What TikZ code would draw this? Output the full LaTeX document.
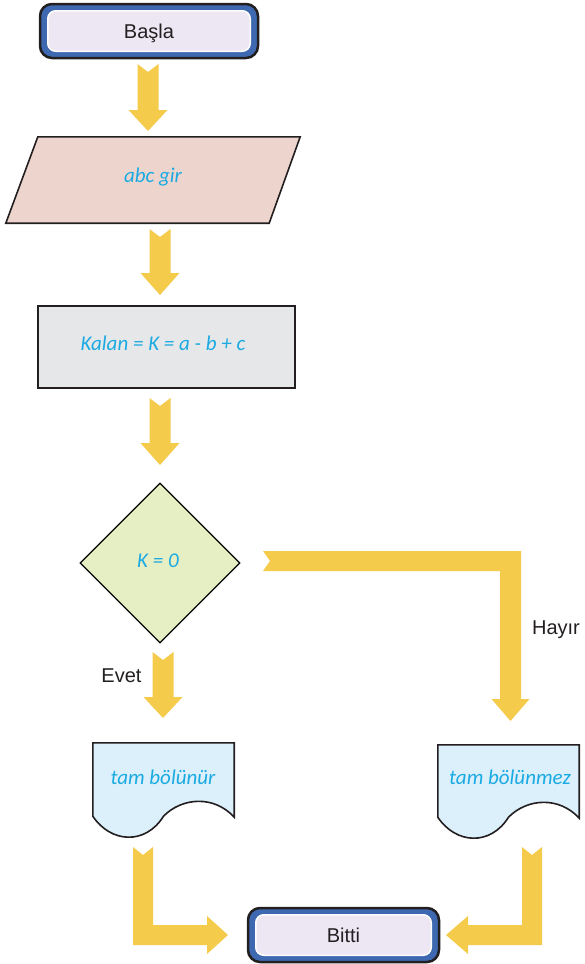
\documentclass[tikz,border=0pt]{standalone}
\usepackage{fontspec}
\setmainfont{Liberation Sans}
\newfontfamily\calfont{Carlito}
\usetikzlibrary{shapes.geometric,calc}
\definecolor{arrowyellow}{RGB}{244,203,75}
\definecolor{termblue}{RGB}{62,105,176}
\definecolor{termfill}{RGB}{236,231,242}
\definecolor{inpink}{RGB}{237,213,206}
\definecolor{procgray}{RGB}{230,231,232}
\definecolor{decgreen}{RGB}{230,239,196}
\definecolor{docblue}{RGB}{219,240,250}
\definecolor{cyantext}{RGB}{27,170,226}
\definecolor{darktext}{RGB}{35,31,32}
\tikzset{
  terminal/.style={rounded corners=12pt, fill=termblue, draw=darktext, line width=2.5pt, inner sep=0pt,
    text=darktext, font=\fontsize{20}{24}\selectfont},
  cyanlabel/.style={text=cyantext, font=\calfont\itshape\fontsize{21}{25}\selectfont, inner sep=0pt},
  darklabel/.style={text=darktext, font=\fontsize{20}{24}\selectfont, inner sep=0pt},
  blockarrow/.style={fill=arrowyellow, draw=none},
  shapeline/.style={draw=darktext, line width=1.6pt},
}
% down block arrow: #1 centre x, #2 top, #3 head start, #4 tip
\newcommand\blockdown[4]{%
  \fill[blockarrow] (#1-10.5,#2) -- (#1,#2+8) -- (#1+10.5,#2) -- (#1+10.5,#3) -- (#1+19.5,#3)
    -- (#1,#4) -- (#1-19.5,#3) -- (#1-10.5,#3) -- cycle;}
\begin{document}
\begin{tikzpicture}[x=1pt,y=-1pt]
\useasboundingbox (0,0) rectangle (584,964);

% Start terminal
\node[terminal, minimum width=218pt, minimum height=54pt] (start) at (149,31) {};
\fill[termfill, draw=white, line width=1.5pt, rounded corners=8pt]
  ($(start.north west)+(9,8)$) rectangle ($(start.south east)+(-9,-8)$);
\node[darklabel] (startlbl) at ($(start.center)+(0,2.5)$) {Başla};

% Input parallelogram
\node[minimum width=294pt, minimum height=86pt, inner sep=0pt] (input) at (153,180) {};
\filldraw[fill=inpink, shapeline, line join=miter]
  ($(input.north west)+(32,0)$) -- (input.north east) -- ($(input.south east)+(-31,0)$) -- (input.south west) -- cycle;
\node[cyanlabel] (inputlbl) at (153,177) {abc gir};

% Process
\node[fill=procgray, draw=darktext, line width=2pt, minimum width=257pt, minimum height=82pt, inner sep=0pt] (proc) at (166.5,347) {};
\node[cyanlabel] (proclbl) at (163,343) {Kalan = K = a - b + c};

% Decision
\node[diamond, aspect=1, fill=decgreen, draw=black, line width=1.2pt, minimum width=160pt, minimum height=160pt, inner sep=0pt] (dec) at (160,563) {};
\node[cyanlabel] (declbl) at (158,561) {K = 0};

% Documents
\node[minimum width=141pt, minimum height=73pt, inner sep=0pt] (doc1) at (163.5,779.5) {};
\filldraw[fill=docblue, shapeline]
  (doc1.south west) -- (doc1.north west) -- (doc1.north east) -- ($(doc1.south east)+(0,1)$)
  .. controls ($(doc1.south east)+(-20,-21)$) and ($(doc1.south east)+(-52,-19)$) .. ($(doc1.south)+(0,0)$)
  .. controls ($(doc1.south)+(-18,29)$) and ($(doc1.south west)+(18,27)$) .. (doc1.south west) -- cycle;
\node[cyanlabel] (doc1lbl) at (163,777) {tam bölünür};

\node[minimum width=141pt, minimum height=72pt, inner sep=0pt] (doc2) at (508.5,781) {};
\filldraw[fill=docblue, shapeline]
  (doc2.south west) -- (doc2.north west) -- (doc2.north east) -- ($(doc2.south east)+(0,1)$)
  .. controls ($(doc2.south east)+(-20,-21)$) and ($(doc2.south east)+(-52,-19)$) .. ($(doc2.south)+(0,0)$)
  .. controls ($(doc2.south)+(-18,29)$) and ($(doc2.south west)+(18,27)$) .. (doc2.south west) -- cycle;
\node[cyanlabel] (doc2lbl) at (510,777) {tam bölünmez};

% End terminal
\node[terminal, minimum width=191pt, minimum height=54pt] (finish) at (343.5,935) {};
\fill[termfill, draw=white, line width=1.5pt, rounded corners=8pt]
  ($(finish.north west)+(9,8)$) rectangle ($(finish.south east)+(-9,-8)$);
\node[darklabel] (finishlbl) at (finish.center) {Bitti};

% Labels
\node[darklabel] (evet) at (121.5,676) {Evet};
\node[darklabel] (hayir) at (556,630) {Hayır};

% Block arrows
\blockdown{148}{64}{110}{131}
\blockdown{160}{229}{273}{295}
\blockdown{160}{398}{443}{465}
\blockdown{163}{652}{697}{718}

\fill[blockarrow] (263,551) -- (521,551) -- (521,699) -- (529.5,699) -- (510.5,721) -- (491.5,699)
  -- (500,699) -- (500,571) -- (263,571) -- (270,561) -- cycle;

\fill[blockarrow] (133,847) -- (143,855) -- (153,847) -- (153,925) -- (207,925) -- (207,916)
  -- (228,935) -- (207,954) -- (207,945) -- (133,945) -- cycle;

\fill[blockarrow] (542,847) -- (542,945) -- (468,945) -- (468,954) -- (446,935) -- (468,916)
  -- (468,925) -- (522,925) -- (522,847) -- (532,855) -- cycle;
\end{tikzpicture}
\end{document}
